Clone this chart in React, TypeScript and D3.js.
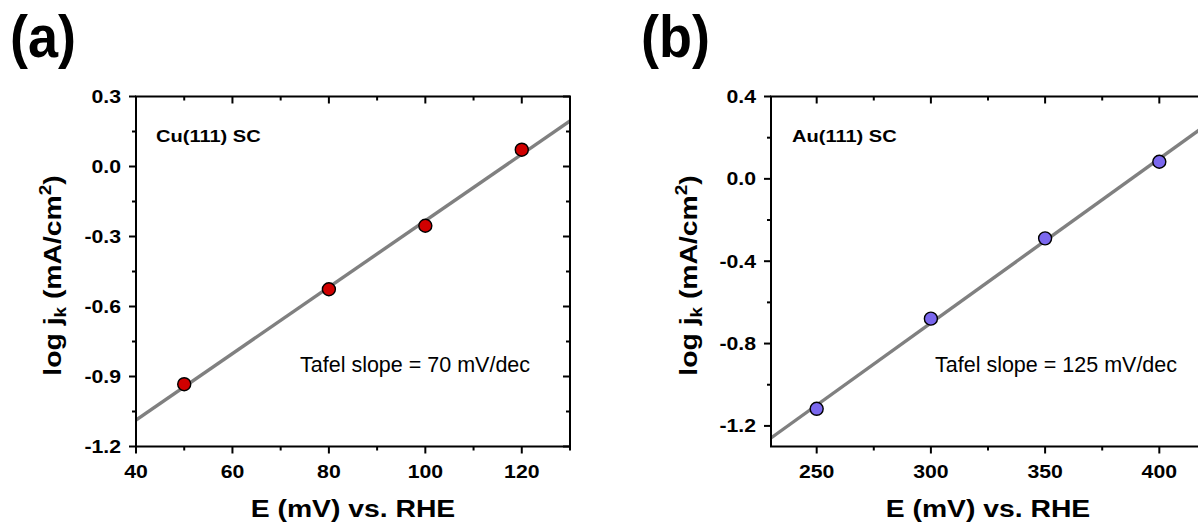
import React from "react";
import * as d3 from "d3";

// Kinetic current (log j_k) against electrode potential for two surfaces
const cuPotential = [50, 80, 100, 120];
const cuLogJ = [-0.933, -0.526, -0.254, 0.072];
const cuXTicks = [40, 60, 80, 100, 120];
const cuYTicks = [0.3, 0.0, -0.3, -0.6, -0.9, -1.2];

const auPotential = [250, 300, 350, 400];
const auLogJ = [-1.117, -0.679, -0.289, 0.083];
const auXTicks = [250, 300, 350, 400];
const auYTicks = [0.4, 0.0, -0.4, -0.8, -1.2];

const FONT = "'Liberation Sans', Arial, Helvetica, sans-serif";
// bold axis lettering is set slightly wide
const WIDE = 1.18;

type PanelProps = {
  id: string;
  tag: string;
  sample: string;
  slopeText: string;
  xs: number[];
  ys: number[];
  xDomain: [number, number];
  yDomain: [number, number];
  xTicks: number[];
  yTicks: number[];
  xMinorStep: number;
  yMinorStep: number;
  left: number;
  right: number;
  fill: string;
  tagX: number;
  sampleX: number;
  slopeX: number;
  yTitleX: number;
};

const TOP = 96.5;
const BOTTOM = 446.5;

// least-squares fit through the measured points
function linearFit(xs: number[], ys: number[]) {
  const mx = d3.mean(xs)!;
  const my = d3.mean(ys)!;
  let sxy = 0;
  let sxx = 0;
  xs.forEach((x, i) => {
    sxy += (x - mx) * (ys[i] - my);
    sxx += (x - mx) * (x - mx);
  });
  const slope = sxy / sxx;
  return (x: number) => my + slope * (x - mx);
}

function fmt(v: number) {
  return Math.abs(v) < 1e-9 ? "0.0" : v.toFixed(1);
}

function minorValues(domain: [number, number], step: number, majors: number[]) {
  const out: number[] = [];
  const start = Math.ceil(domain[0] / step - 1e-9);
  const end = Math.floor(domain[1] / step + 1e-9);
  for (let k = start; k <= end; k++) {
    const v = +(k * step).toFixed(6);
    if (!majors.some((m) => Math.abs(m - v) < 1e-6)) out.push(v);
  }
  return out;
}

function Panel(p: PanelProps) {
  const x = d3.scaleLinear().domain(p.xDomain).range([p.left, p.right]);
  const y = d3.scaleLinear().domain(p.yDomain).range([BOTTOM, TOP]);
  const fit = linearFit(p.xs, p.ys);
  const fitLine = d3
    .line<number>()
    .x((d) => x(d))
    .y((d) => y(fit(d)));
  const xMinor = minorValues(p.xDomain, p.xMinorStep, p.xTicks);
  const yMinor = minorValues(p.yDomain, p.yMinorStep, p.yTicks);
  const MAJ = 7;
  const MIN = 4;
  const cx = (p.left + p.right) / 2;
  const cy = (TOP + BOTTOM) / 2;

  return (
    <g>
      <defs>
        <clipPath id={`clip-${p.id}`}>
          <rect x={p.left} y={TOP} width={p.right - p.left} height={BOTTOM - TOP} />
        </clipPath>
      </defs>

      <text
        transform={`translate(${p.tagX},57) scale(0.9,1)`}
        fontFamily={FONT}
        fontWeight="bold"
        fontSize={60}
        fill="#000"
      >
        {p.tag}
      </text>

      {/* fitted line */}
      <path
        d={fitLine(p.xDomain) || ""}
        stroke="#808080"
        strokeWidth={3.4}
        fill="none"
        clipPath={`url(#clip-${p.id})`}
      />

      {/* measured points */}
      {p.xs.map((v, i) => (
        <circle
          key={i}
          cx={x(v)}
          cy={y(p.ys[i])}
          r={6.5}
          fill={p.fill}
          stroke="#000"
          strokeWidth={1.4}
        />
      ))}

      {/* frame */}
      <rect
        x={p.left}
        y={TOP}
        width={p.right - p.left}
        height={BOTTOM - TOP}
        fill="none"
        stroke="#000"
        strokeWidth={2}
      />

      {/* x ticks: outward at bottom, inward at top */}
      {p.xTicks.map((t) => (
        <g key={`xt${t}`}>
          <line x1={x(t)} x2={x(t)} y1={BOTTOM} y2={BOTTOM + MAJ} stroke="#000" strokeWidth={2} />
          <line x1={x(t)} x2={x(t)} y1={TOP} y2={TOP + MAJ} stroke="#000" strokeWidth={2} />
          <text
            transform={`translate(${x(t)},478) scale(${WIDE},1)`}
            textAnchor="middle"
            fontFamily={FONT}
            fontWeight="bold"
            fontSize={18}
            fill="#000"
          >
            {t}
          </text>
        </g>
      ))}
      {xMinor.map((t) => (
        <g key={`xm${t}`}>
          <line x1={x(t)} x2={x(t)} y1={BOTTOM} y2={BOTTOM + MIN} stroke="#000" strokeWidth={2} />
          <line x1={x(t)} x2={x(t)} y1={TOP} y2={TOP + MIN} stroke="#000" strokeWidth={2} />
        </g>
      ))}

      {/* y ticks: outward at left, inward at right */}
      {p.yTicks.map((t) => (
        <g key={`yt${t}`}>
          <line x1={p.left - MAJ} x2={p.left} y1={y(t)} y2={y(t)} stroke="#000" strokeWidth={2} />
          <line x1={p.right - MAJ} x2={p.right} y1={y(t)} y2={y(t)} stroke="#000" strokeWidth={2} />
          <text
            transform={`translate(${p.left - 15},${y(t)}) scale(${WIDE},1)`}
            dy="0.36em"
            textAnchor="end"
            fontFamily={FONT}
            fontWeight="bold"
            fontSize={18}
            fill="#000"
          >
            {fmt(t)}
          </text>
        </g>
      ))}
      {yMinor.map((t) => (
        <g key={`ym${t}`}>
          <line x1={p.left - MIN} x2={p.left} y1={y(t)} y2={y(t)} stroke="#000" strokeWidth={2} />
          <line x1={p.right - MIN} x2={p.right} y1={y(t)} y2={y(t)} stroke="#000" strokeWidth={2} />
        </g>
      ))}

      {/* in-plot labels */}
      <text
        transform={`translate(${p.sampleX},142) scale(${WIDE},1)`}
        fontFamily={FONT}
        fontWeight="bold"
        fontSize={17}
        fill="#000"
      >
        {p.sample}
      </text>
      <text x={p.slopeX} y={372} fontFamily={FONT} fontSize={21.5} fill="#000">
        {p.slopeText}
      </text>

      {/* axis titles */}
      <text
        transform={`translate(${cx},517) scale(${WIDE},1)`}
        textAnchor="middle"
        fontFamily={FONT}
        fontWeight="bold"
        fontSize={24}
        fill="#000"
      >
        E (mV) vs. RHE
      </text>
      <text
        transform={`translate(${p.yTitleX},${cy + 4}) rotate(-90) scale(${WIDE},1)`}
        textAnchor="middle"
        fontFamily={FONT}
        fontWeight="bold"
        fontSize={24}
        fill="#000"
      >
        log j
        <tspan fontSize={16} dy={5}>
          k
        </tspan>
        <tspan dy={-5}> (mA/cm</tspan>
        <tspan fontSize={16} dy={-10}>
          2
        </tspan>
        <tspan dy={10}>)</tspan>
      </text>
    </g>
  );
}

export default function App() {
  return (
    <svg
      width={1198}
      height={524}
      style={{ position: "absolute", left: 0, top: 0, background: "#fff" }}
    >
      <rect x={0} y={0} width={1198} height={524} fill="#fff" />
      <Panel
        id="cu"
        tag="(a)"
        sample="Cu(111) SC"
        slopeText="Tafel slope = 70 mV/dec"
        xs={cuPotential}
        ys={cuLogJ}
        xDomain={[40, 130]}
        yDomain={[-1.2, 0.3]}
        xTicks={cuXTicks}
        yTicks={cuYTicks}
        xMinorStep={10}
        yMinorStep={0.15}
        left={136}
        right={570}
        fill="#d00000"
        tagX={10}
        sampleX={156}
        slopeX={300}
        yTitleX={61}
      />
      <Panel
        id="au"
        tag="(b)"
        sample="Au(111) SC"
        slopeText="Tafel slope = 125 mV/dec"
        xs={auPotential}
        ys={auLogJ}
        xDomain={[230, 420]}
        yDomain={[-1.3, 0.4]}
        xTicks={auXTicks}
        yTicks={auYTicks}
        xMinorStep={25}
        yMinorStep={0.2}
        left={771}
        right={1205}
        fill="#7b68ee"
        tagX={641}
        sampleX={792}
        slopeX={935}
        yTitleX={697}
      />
    </svg>
  );
}
